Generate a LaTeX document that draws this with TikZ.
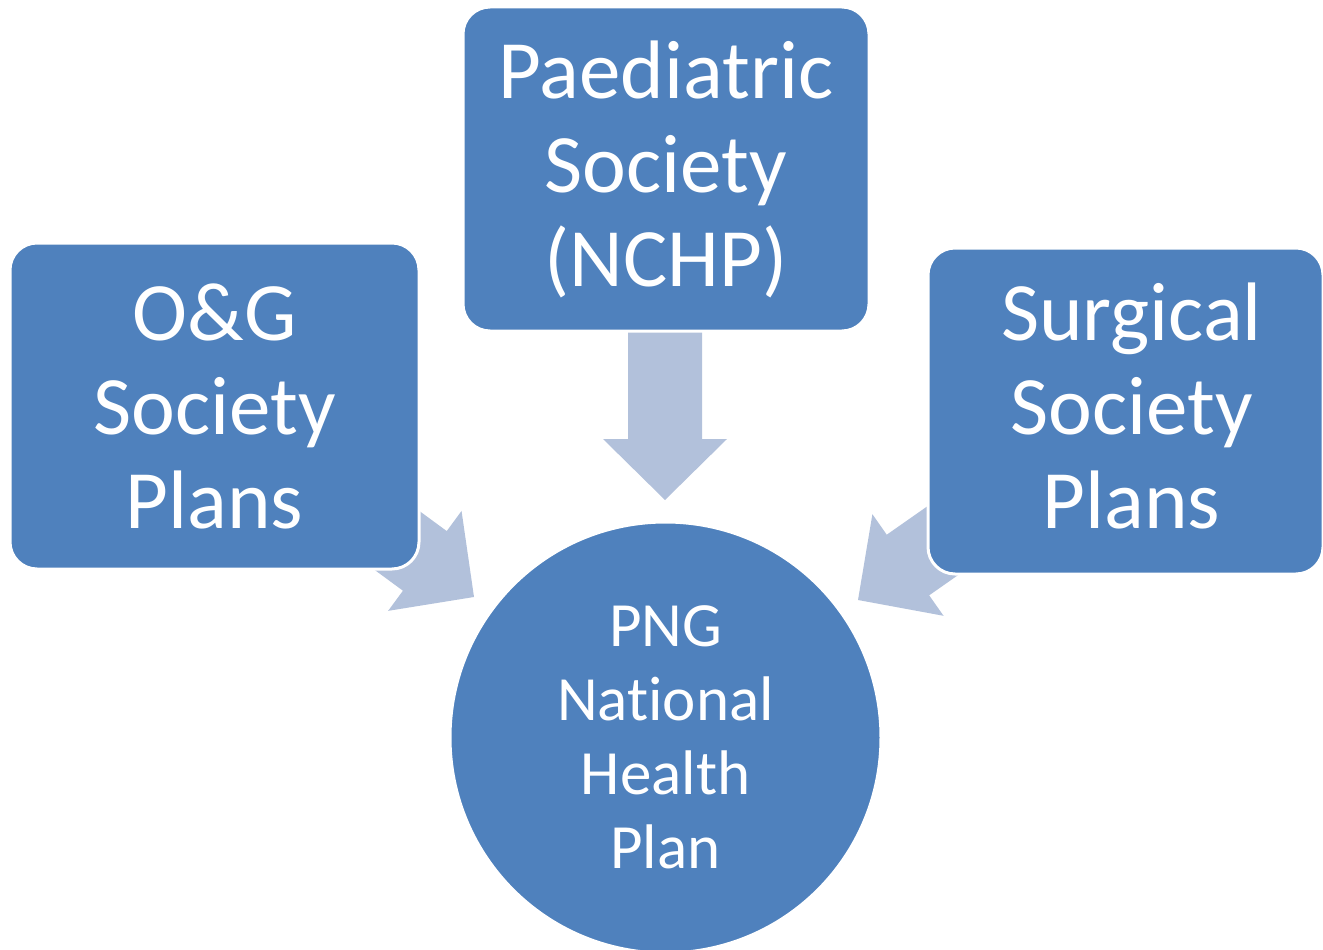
\documentclass[tikz,border=0pt]{standalone}
\usepackage{fontspec}
\setmainfont[Ligatures=NoCommon]{Carlito}
\definecolor{boxblue}{HTML}{4F81BD}
\definecolor{arrowblue}{HTML}{B2C1DB}
\begin{document}
\begin{tikzpicture}[x=1pt,y=-1pt,
  society/.style={rectangle, draw=white, line width=3pt, fill=boxblue,
    rounded corners=27pt, text=white, align=center, inner sep=0pt,
    font=\fontsize{83}{94}\selectfont},
  hub/.style={circle, draw=white, line width=3pt, fill=boxblue,
    text=white, align=center, inner sep=0pt, minimum size=431pt,
    font=\fontsize{63}{74}\selectfont},
  % block arrow with its tip at the origin, pointing along +x
  blockarrow/.pic={
    \fill[arrowblue] (0,0) -- (-61,62) -- (-61,37) -- (-225,37)
      -- (-225,-37) -- (-61,-37) -- (-61,-62) -- cycle;}
]
\useasboundingbox (0,0) rectangle (1323,950);
\clip (0,0) rectangle (1323,950);

% arrow tips, all pointing at the national plan
\coordinate (ptip) at (665,500);
\coordinate (ltip) at (474,597);
\coordinate (rtip) at (858,600);

% arrows first, so the boxes sit on top of their tails
\pic[rotate=-90]   at (ptip) {blockarrow};
\pic[rotate=-36.3] at (ltip) {blockarrow};
\pic[rotate=-145]  at (rtip) {blockarrow};

% society boxes
\node[society, minimum width=406pt, minimum height=324pt] (paed) at (666,169)
  {Paediatric\\Society\\(NCHP)};
\node[society, minimum width=409pt, minimum height=326pt] (og) at (214.5,406)
  {O\&G\\Society\\Plans};
\node[society, minimum width=395pt, minimum height=326pt, text depth=10pt]
  (surg) at (1125.5,411)
  {\hspace*{12pt}Surgical\\\hspace*{12pt}Society\\\hspace*{12pt}Plans};

% central plan
\node[hub] (plan) at (665.5,737.5) {PNG\\National\\Health\\Plan};
\end{tikzpicture}
\end{document}
